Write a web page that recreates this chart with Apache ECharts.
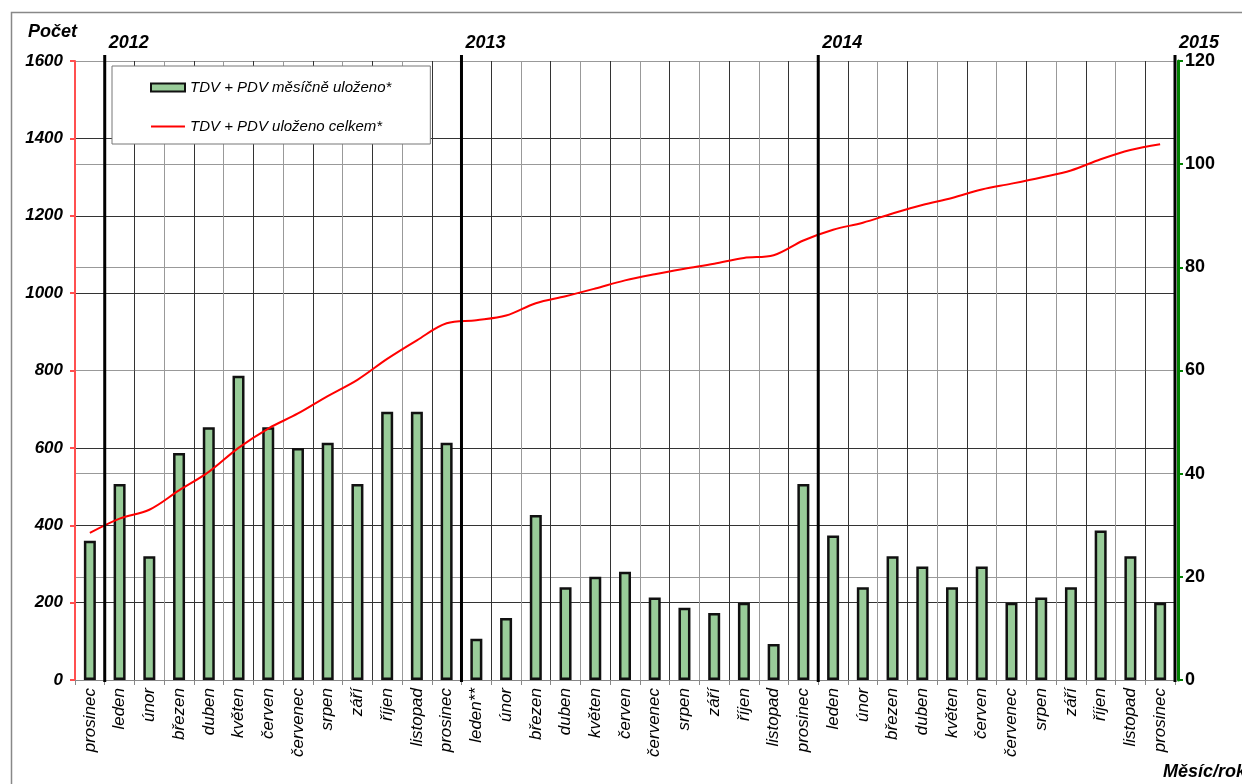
<!DOCTYPE html>
<html><head><meta charset="utf-8">
<script src="https://cdn.jsdelivr.net/npm/echarts@6/dist/echarts.min.js"></script>
<style>html,body{margin:0;padding:0;background:#fff}#c{width:1242px;height:784px}</style>
</head><body><div id="c"></div>
<script>
const categories = ['prosinec','leden','únor','březen','duben','květen','červen','červenec','srpen','září','říjen','listopad','prosinec','leden**','únor','březen','duben','květen','červen','červenec','srpen','září','říjen','listopad','prosinec','leden','únor','březen','duben','květen','červen','červenec','srpen','září','říjen','listopad','prosinec'];
const monthlyStored = [27,38,24,44,49,59,49,45,46,38,52,52,46,8,12,32,18,20,21,16,14,13,15,7,38,28,18,24,22,18,22,15,16,18,29,24,15];
const totalStored = [380,417,440,490,538,600,650,689,734,776,830,878,922,930,942,974,992,1012,1033,1049,1063,1076,1091,1098,1136,1164,1182,1206,1228,1246,1268,1283,1299,1317,1346,1370,1385];
const yearLabels = ['2012','2013','2014','2015'];
const yearStartIndex = [1,13,25,37];
const leftAxis = {min:0, max:1600, step:200};
const rightAxis = {min:0, max:120, step:20};
const seriesNames = ['TDV + PDV měsíčně uloženo*','TDV + PDV uloženo celkem*'];

const FONT = "'Liberation Sans', Arial, sans-serif";
const chart = echarts.init(document.getElementById('c'), null, {renderer:'canvas'});
chart.setOption({
  animation:false,
  backgroundColor:'#fff',
  textStyle:{fontFamily:FONT},
  grid:{left:75, right:67, top:61, bottom:104, containLabel:false},
  legend:{
    orient:'vertical', left:112, top:66,
    padding:[14,39,10,38], itemGap:24,
    backgroundColor:'#fff', borderColor:'#777', borderWidth:1,
    itemWidth:34, itemHeight:8,
    textStyle:{fontFamily:FONT, fontStyle:'italic', fontSize:15, color:'#000'},
    data:[
      {name:seriesNames[0], icon:'rect'},
      {name:seriesNames[1], icon:'path://M0,0L0,0.01Z M0,3L34,3L34,5L0,5Z M0,8L0,8.01Z', itemStyle:{color:'#ff0000', borderWidth:0}}
    ]
  },
  xAxis:{
    type:'category', data:categories, boundaryGap:true,
    axisLine:{show:true, lineStyle:{color:'#888', width:1}},
    axisTick:{show:true, length:5, interval:0, lineStyle:{color:'#888'}},
    axisLabel:{interval:0, rotate:90, margin:8, fontFamily:FONT, fontStyle:'italic', fontSize:17, color:'#000'},
    splitLine:{show:true, interval:0, lineStyle:{color:['#333','#999'], width:1}}
  },
  yAxis:[{
    type:'value', position:'left', min:leftAxis.min, max:leftAxis.max, interval:leftAxis.step,
    axisLine:{show:true, lineStyle:{color:'#ff5050', width:2}},
    axisTick:{show:true, length:5, lineStyle:{color:'#ff5050', width:2}},
    axisLabel:{margin:12, formatter:(v)=>String(v), fontFamily:FONT, fontStyle:'italic', fontWeight:'bold', fontSize:17, color:'#000'},
    splitLine:{show:true, lineStyle:{color:'#333', width:1}}
  },{
    type:'value', position:'right', offset:3, min:rightAxis.min, max:rightAxis.max, interval:rightAxis.step,
    axisLine:{show:true, lineStyle:{color:'#008000', width:3}},
    axisTick:{show:true, length:5, lineStyle:{color:'#008000', width:2}},
    axisLabel:{margin:7, formatter:(v)=>String(v), fontFamily:FONT, fontWeight:'bold', fontSize:18, color:'#000'},
    splitLine:{show:true, lineStyle:{color:'#999', width:1}}
  }],
  series:[{
    name:seriesNames[0], type:'bar', yAxisIndex:1, data:monthlyStored,
    barWidth:12,
    itemStyle:{color:'#99CC99', borderColor:'#111', borderWidth:2.5},
    z:3
  },{
    name:seriesNames[1], type:'line', yAxisIndex:0, data:totalStored,
    smooth:0.35, symbol:'none', showSymbol:false,
    lineStyle:{color:'#ff0000', width:2},
    itemStyle:{color:'#ff0000'},
    z:5
  }]
});

const c0 = chart.convertToPixel({xAxisIndex:0}, 0);
const c1 = chart.convertToPixel({xAxisIndex:0}, 1);
const band = c1 - c0;
const yTop = chart.convertToPixel({yAxisIndex:0}, leftAxis.max);
const yBot = chart.convertToPixel({yAxisIndex:0}, leftAxis.min);
const g = [
  {type:'rect', left:9, top:10, shape:{x:0,y:0,width:1400,height:1000}, style:{fill:'none', stroke:'#888', lineWidth:1.5}, silent:true, z:-10},
  {type:'text', left:28, top:23, style:{text:'Počet', font:"italic bold 18px "+FONT, fill:'#000'}},
  {type:'text', left:1163, top:763, style:{text:'Měsíc/rok', font:"italic bold 18px "+FONT, fill:'#000'}}
];
yearStartIndex.forEach((idx, k) => {
  const x = c0 + (idx - 0.5) * band;
  g.push({type:'line', shape:{x1:x, y1:yTop-6, x2:x, y2:yBot+2}, style:{stroke:'#000', lineWidth:3}, z:10});
  g.push({type:'text', x:x+4, y:yTop-27, style:{text:yearLabels[k], font:"italic bold 18px "+FONT, fill:'#000'}, z:10});
});
chart.setOption({graphic:g});
</script>
</body></html>
